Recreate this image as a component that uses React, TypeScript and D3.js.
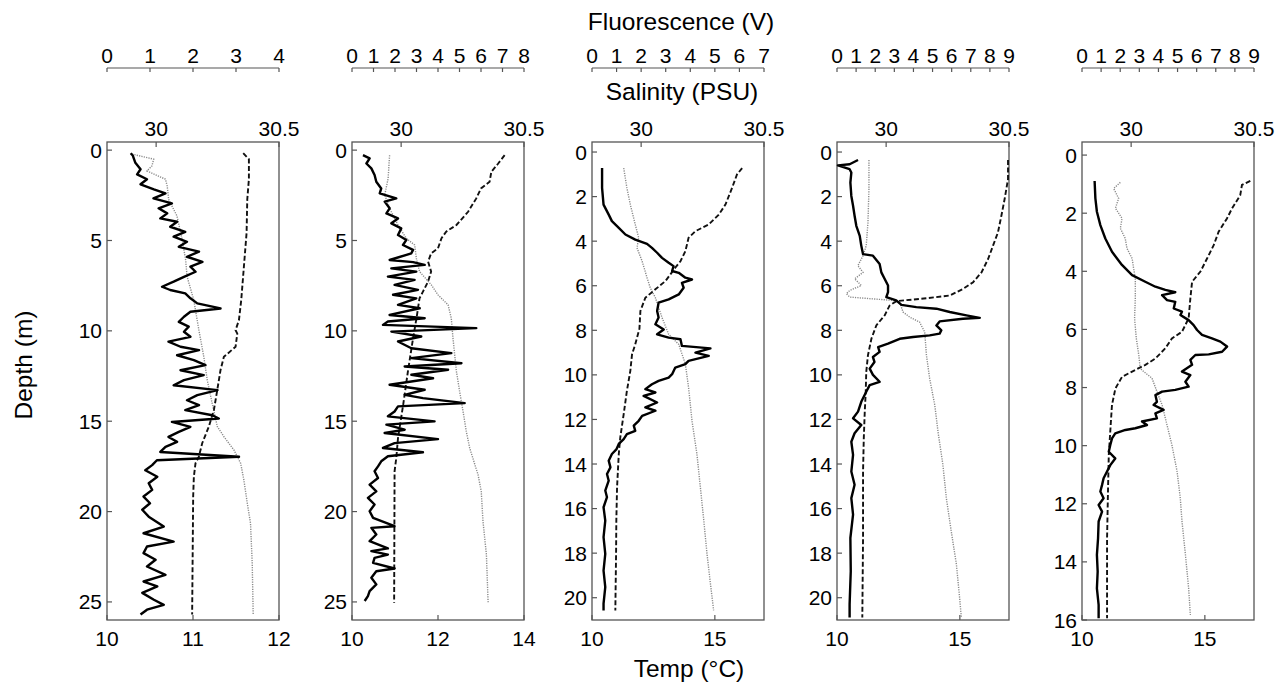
import React from "react";
import { scaleLinear, line } from "d3";

// ---- data: [depth (m), value] ----

// panel 1
const p1Fluor: number[][] = [
  [0.17, 0.55], [0.3, 0.6], [0.7, 0.66], [1.06, 0.78], [1.34, 0.7], [1.61, 0.93], [1.89, 0.78],
  [2.17, 1.09], [2.39, 1.36], [2.67, 1.08], [2.95, 1.51], [3.22, 1.2], [3.5, 1.4], [3.78, 1.24],
  [3.96, 1.63], [4.24, 1.47], [4.52, 1.82], [4.79, 1.55], [5.07, 1.86], [5.35, 1.67], [5.62, 2.14],
  [5.9, 1.86], [6.18, 2.22], [6.45, 1.94], [6.73, 2.06], [7.01, 1.79], [7.28, 1.55], [7.56, 1.28],
  [7.74, 1.47], [7.93, 1.82], [8.2, 1.94], [8.48, 2.1], [8.76, 2.64], [8.94, 1.94], [9.22, 1.79],
  [9.5, 1.67], [9.77, 1.9], [10.05, 1.79], [10.33, 1.94], [10.6, 1.43], [10.88, 1.71],
  [11.07, 2.14], [11.35, 1.63], [11.62, 2.02], [11.9, 2.29], [12.18, 1.71], [12.45, 2.25],
  [12.73, 1.79], [13.01, 1.55], [13.28, 2.57], [13.56, 2.1], [13.84, 1.86], [14.11, 2.14],
  [14.39, 1.82], [14.67, 2.45], [14.85, 2.6], [15.04, 1.51], [15.31, 1.94], [15.59, 1.67],
  [15.87, 1.43], [16.14, 1.63], [16.42, 1.36], [16.7, 1.24], [16.97, 3.07], [17.16, 1.16],
  [17.43, 1.05], [17.71, 0.89], [18.07, 1.17], [18.43, 0.97], [18.8, 1.05],
  [19.17, 0.85], [19.54, 1.0], [19.9, 0.82], [20.28, 0.97], [20.83, 1.32], [21.2, 0.85],
  [21.66, 1.55], [21.93, 0.93], [22.3, 0.85], [22.67, 1.13], [23.04, 0.93], [23.5, 1.36],
  [23.87, 0.85], [24.14, 1.17], [24.5, 0.82], [24.88, 1.09], [25.16, 1.32], [25.43, 0.93],
  [25.7, 0.78],
];
const p1Sal: number[][] = [
  [0.22, 29.902], [0.5, 29.99], [0.87, 29.983], [1.15, 29.963], [1.61, 30.038], [1.99, 30.045],
  [2.73, 30.051], [3.65, 30.085], [4.95, 30.106], [6.07, 30.12], [7.0, 30.126], [8.29, 30.153],
  [9.96, 30.174], [11.44, 30.194], [12.73, 30.208], [14.01, 30.228], [15.3, 30.249],
  [15.86, 30.276], [16.6, 30.317], [17.33, 30.344], [18.25, 30.357], [19.54, 30.371],
  [20.64, 30.384], [22.85, 30.391], [25.7, 30.395],
];
const p1Temp: number[][] = [
  [0.17, 11.584], [0.5, 11.65], [1.61, 11.65], [2.73, 11.631], [4.58, 11.623], [6.44, 11.592],
  [8.29, 11.561], [9.41, 11.534], [9.96, 11.495], [10.15, 11.515], [10.88, 11.495],
  [11.44, 11.359], [12.17, 11.32], [13.28, 11.282], [14.38, 11.243], [15.3, 11.184],
  [16.22, 11.107], [16.96, 11.068], [17.33, 11.029], [18.07, 11.01], [19.17, 11.002],
  [25.7, 10.99],
];

// panel 2
const p2Fluor: number[][] = [
  [0.28, 0.51], [0.46, 0.82], [0.74, 0.67], [1.01, 0.9], [1.38, 1.05], [1.75, 1.13], [2.12, 1.36],
  [2.39, 1.29], [2.67, 2.06], [2.85, 1.52], [3.22, 1.75], [3.5, 1.6], [3.78, 2.14], [4.05, 1.83],
  [4.33, 2.29], [4.7, 2.14], [4.97, 2.53], [5.25, 2.37], [5.52, 2.84], [5.71, 2.76], [6.08, 1.75],
  [6.2, 2.84], [6.35, 3.38], [6.54, 1.83], [6.72, 2.99], [7.0, 1.67], [7.18, 2.91], [7.46, 1.98],
  [7.73, 3.07], [8.0, 1.91], [8.2, 2.99], [8.56, 2.14], [8.75, 3.15], [9.12, 1.75], [9.3, 3.38],
  [9.48, 1.67], [9.67, 1.44], [9.85, 5.78], [10.04, 1.83], [10.31, 3.22], [10.59, 2.14],
  [10.96, 2.76], [11.23, 4.62], [11.51, 2.76], [11.79, 5.09], [11.97, 2.45], [12.15, 4.47],
  [12.43, 2.76], [12.62, 3.77], [12.98, 1.75], [13.26, 3.38], [13.54, 2.45], [13.72, 3.3],
  [14.0, 5.24], [14.18, 2.14], [14.46, 1.98], [14.73, 1.67], [15.01, 3.84], [15.19, 1.6],
  [15.47, 2.45], [15.65, 1.52], [15.99, 4.0], [16.21, 1.98], [16.48, 1.44], [16.72, 3.3],
  [16.94, 1.67], [17.22, 1.36], [17.5, 1.21], [17.77, 1.05], [18.14, 1.21], [18.51, 0.82],
  [18.88, 1.13], [19.24, 0.74], [19.61, 1.05], [19.98, 0.82], [20.35, 0.98], [20.81, 1.98],
  [20.9, 0.9], [21.27, 1.13], [21.64, 0.82], [22.04, 1.67], [22.19, 0.9], [22.38, 1.67],
  [22.56, 1.05], [22.84, 0.98], [23.15, 1.98], [23.3, 1.13], [23.66, 0.9], [24.03, 1.13],
  [24.4, 0.82], [24.68, 0.74], [24.95, 0.59],
];
const p2Sal: number[][] = [
  [0.28, 29.953], [1.57, 29.947], [2.49, 29.933], [3.41, 29.96], [4.14, 29.987], [4.88, 30.021],
  [5.25, 30.055], [5.99, 30.062], [6.72, 30.075], [7.46, 30.123], [8.01, 30.15], [8.56, 30.191],
  [9.3, 30.204], [10.41, 30.211], [11.33, 30.218], [12.25, 30.225], [13.35, 30.238],
  [14.46, 30.252], [15.56, 30.265], [16.48, 30.279], [17.4, 30.3], [17.96, 30.313],
  [18.88, 30.326], [20.53, 30.333], [22.38, 30.347], [25.05, 30.354],
];
const p2Temp: number[][] = [
  [0.28, 13.55], [0.74, 13.4], [1.2, 13.24], [1.75, 13.2], [2.12, 13.0], [2.67, 12.89],
  [3.41, 12.7], [4.14, 12.43], [4.51, 12.19], [4.88, 12.08], [5.43, 12.0], [5.71, 11.84],
  [6.17, 11.77], [6.72, 11.84], [7.27, 11.77], [7.83, 11.65], [8.2, 11.57], [9.3, 11.5],
  [10.41, 11.42], [12.25, 11.3], [14.09, 11.19], [15.93, 11.07], [17.03, 11.03],
  [17.77, 10.99], [25.05, 10.98],
];

// panel 3
const p3Fluor: number[][] = [
  [0.72, 0.41], [1.61, 0.41], [2.36, 0.47], [2.81, 0.68], [3.1, 0.81], [3.4, 1.09], [3.7, 1.36],
  [3.93, 1.76], [4.12, 2.24], [4.3, 2.44], [4.52, 2.65], [4.75, 2.85], [4.97, 3.12], [5.12, 3.32],
  [5.34, 3.26], [5.42, 3.53], [5.64, 3.8], [5.72, 4.07], [5.87, 3.66], [6.09, 3.73], [6.39, 3.53],
  [6.61, 3.12], [6.76, 2.71], [7.13, 2.65], [7.43, 2.71], [7.73, 2.58], [7.96, 2.92], [8.18, 2.65],
  [8.33, 3.12], [8.4, 3.6], [8.7, 3.66], [8.81, 4.82], [9.0, 4.21], [9.15, 4.75], [9.37, 3.93],
  [9.52, 3.8], [9.67, 3.39], [9.97, 3.26], [10.12, 3.12], [10.27, 2.71], [10.42, 2.44],
  [10.64, 2.17], [10.79, 2.58], [10.94, 2.1], [11.24, 2.65], [11.46, 2.17], [11.61, 2.58],
  [11.84, 2.04], [12.06, 1.9], [12.28, 1.7], [12.51, 1.76], [12.66, 1.42], [12.88, 1.29],
  [13.1, 1.09], [13.33, 1.0], [13.55, 0.81], [13.85, 0.68], [14.15, 0.75], [14.45, 0.61],
  [14.75, 0.68], [15.19, 0.54], [15.49, 0.61], [15.94, 0.47], [16.54, 0.54], [17.28, 0.47],
  [18.03, 0.54], [18.78, 0.47], [19.52, 0.54], [20.27, 0.47], [20.57, 0.47],
];
const p3Sal: number[][] = [
  [0.72, 29.929], [1.61, 29.942], [2.36, 29.956], [3.25, 29.976], [3.85, 29.99], [4.3, 29.983],
  [4.9, 30.004], [5.64, 30.024], [6.09, 30.037], [6.54, 30.058], [7.43, 30.085], [8.18, 30.112],
  [8.63, 30.153], [9.52, 30.18], [10.57, 30.193], [12.06, 30.207], [13.55, 30.227],
  [15.04, 30.241], [16.54, 30.255], [18.03, 30.268], [19.37, 30.282], [20.57, 30.295],
];
const p3Temp: number[][] = [
  [0.72, 16.11], [1.01, 15.9], [1.61, 15.7], [2.36, 15.43], [2.81, 15.16], [3.25, 14.75],
  [3.55, 14.21], [3.85, 13.93], [4.45, 13.8], [4.9, 13.6], [5.19, 13.39], [5.49, 13.19],
  [5.79, 12.99], [6.16, 12.58], [6.54, 12.17], [7.13, 11.97], [7.93, 11.93], [8.63, 11.76],
  [9.07, 11.63], [9.82, 11.56], [10.72, 11.42], [11.76, 11.29], [12.81, 11.15], [13.55, 11.09],
  [15.04, 11.02], [16.54, 10.99], [18.03, 10.98], [20.57, 10.95],
];

// panel 4
const p4Fluor: number[][] = [
  [0.36, 1.1], [0.55, 0.66], [0.6, 0.05], [0.77, 0.66], [0.92, 0.75], [1.37, 0.7], [1.97, 0.75],
  [2.41, 0.84], [2.86, 0.92], [3.31, 1.01], [3.76, 1.19], [4.2, 1.27], [4.58, 1.36], [4.65, 1.88],
  [5.02, 2.23], [5.4, 2.32], [5.69, 2.49], [5.99, 2.67], [6.29, 2.67], [6.51, 2.58], [6.66, 3.1],
  [6.86, 3.37], [6.96, 4.15], [7.03, 5.2], [7.18, 5.9], [7.33, 6.77], [7.44, 7.47], [7.48, 6.59],
  [7.6, 5.37], [7.78, 5.2], [8.0, 5.46], [8.15, 5.37], [8.23, 4.85], [8.3, 3.98], [8.38, 3.28],
  [8.6, 2.67], [8.75, 2.15], [8.97, 2.23], [9.2, 1.88], [9.42, 1.96], [9.72, 1.71], [10.0, 1.88],
  [10.31, 2.23], [10.46, 1.71], [10.76, 1.53], [11.21, 1.27], [11.65, 1.1], [11.95, 0.84],
  [12.25, 1.27], [12.62, 0.92], [13.0, 0.75], [13.59, 0.84], [14.34, 0.75], [14.93, 0.92],
  [15.53, 0.75], [16.27, 0.84], [17.32, 0.7], [18.81, 0.72], [20.3, 0.66], [20.89, 0.66],
];
const p4Sal: number[][] = [
  [0.36, 29.93], [1.67, 29.93], [3.16, 29.926], [4.2, 29.919], [4.65, 29.906], [5.1, 29.885],
  [5.4, 29.906], [5.69, 29.872], [5.99, 29.899], [6.21, 29.852], [6.36, 29.838], [6.51, 29.852],
  [6.59, 29.947], [6.66, 30.028], [6.74, 30.055], [7.18, 30.069], [7.41, 30.096], [7.63, 30.136],
  [8.08, 30.157], [9.12, 30.164], [10.16, 30.177], [11.36, 30.198], [12.55, 30.211],
  [14.04, 30.231], [15.53, 30.245], [17.02, 30.265], [18.51, 30.286], [20.0, 30.299],
  [20.89, 30.306],
];
const p4Temp: number[][] = [
  [0.36, 16.96], [1.22, 16.96], [2.12, 16.82], [2.86, 16.69], [3.61, 16.55], [4.2, 16.35],
  [4.8, 16.15], [5.4, 15.88], [5.84, 15.54], [6.14, 15.13], [6.44, 14.59], [6.56, 13.64],
  [6.62, 13.09], [6.69, 12.42], [6.89, 12.14], [7.33, 11.94], [7.78, 11.6], [8.38, 11.4],
  [9.12, 11.26], [9.87, 11.19], [10.76, 11.17], [11.65, 11.13], [12.85, 11.09], [14.34, 11.06],
  [17.32, 11.06], [20.89, 11.03],
];

// panel 5
const p5Fluor: number[][] = [
  [0.89, 0.66], [1.49, 0.7], [1.95, 0.78], [2.41, 0.96], [2.87, 1.22], [3.33, 1.57], [3.78, 2.09],
  [4.13, 2.62], [4.36, 3.31], [4.53, 3.84], [4.64, 4.36], [4.72, 4.88], [4.82, 4.19], [4.99, 4.45],
  [5.05, 4.88], [5.28, 4.8], [5.39, 5.23], [5.5, 5.15], [5.68, 5.58], [5.85, 5.84], [6.02, 6.02],
  [6.19, 6.28], [6.31, 6.8], [6.42, 7.24], [6.59, 7.59], [6.77, 7.33], [6.86, 6.63], [6.88, 5.93],
  [7.05, 5.67], [7.22, 5.76], [7.45, 5.23], [7.57, 5.67], [7.8, 5.41], [7.97, 5.58], [8.08, 4.88],
  [8.14, 4.19], [8.26, 3.84], [8.49, 3.92], [8.6, 3.75], [8.77, 4.27], [8.89, 3.84], [9.06, 3.92],
  [9.17, 3.14], [9.29, 3.4], [9.4, 2.79], [9.46, 2.27], [9.58, 1.74], [9.75, 1.57], [9.98, 1.48],
  [10.21, 1.4], [10.44, 1.74], [10.67, 1.48], [10.89, 1.31], [11.12, 1.13], [11.35, 1.05],
  [11.58, 0.96], [11.81, 1.13], [12.04, 0.87], [12.27, 1.05], [12.61, 0.87], [13.19, 0.84],
  [13.76, 0.78], [14.33, 0.82], [14.91, 0.78], [15.48, 0.87], [15.94, 0.87],
];
const p5Sal: number[][] = [
  [0.94, 29.956], [1.15, 29.929], [1.49, 29.949], [1.83, 29.936], [2.18, 29.963], [2.52, 29.956],
  [2.87, 29.976], [3.21, 29.983], [3.56, 30.004], [3.9, 30.01], [4.24, 30.017], [4.93, 30.017],
  [5.62, 30.014], [6.31, 30.021], [6.88, 30.031], [7.34, 30.037], [7.45, 30.051], [7.68, 30.085],
  [8.14, 30.105], [8.6, 30.126], [9.29, 30.146], [9.98, 30.166], [10.89, 30.187], [11.81, 30.2],
  [12.61, 30.207], [13.76, 30.221], [14.91, 30.234], [15.83, 30.241],
];
const p5Temp: number[][] = [
  [0.89, 16.85], [1.03, 16.51], [1.38, 16.44], [1.83, 16.11], [2.18, 15.9], [2.64, 15.56],
  [3.1, 15.36], [3.56, 15.09], [4.01, 14.82], [4.36, 14.48], [4.93, 14.41], [5.62, 14.34],
  [6.08, 14.07], [6.31, 13.66], [6.65, 13.39], [7.0, 12.99], [7.22, 12.58], [7.45, 12.04],
  [7.63, 11.63], [8.03, 11.36], [8.6, 11.22], [9.52, 11.15], [10.32, 11.09], [11.47, 11.06],
  [13.19, 11.02], [15.94, 11.02],
];

// axes per panel
const depthMax = [26, 26, 21, 21, 16];
const depthTicks = [
  [0, 5, 10, 15, 20, 25],
  [0, 5, 10, 15, 20, 25],
  [0, 2, 4, 6, 8, 10, 12, 14, 16, 18, 20],
  [0, 2, 4, 6, 8, 10, 12, 14, 16, 18, 20],
  [0, 2, 4, 6, 8, 10, 12, 14, 16],
];
const tempMax = [12, 14, 17, 17, 17];
const tempTicks = [[10, 11, 12], [10, 12, 14], [10, 15], [10, 15], [10, 15]];
const fluorMax = [4, 8, 7, 9, 9];
const salDomain = [29.8, 30.5];
const salTicks = [30, 30.5];

const fluorSeries = [p1Fluor, p2Fluor, p3Fluor, p4Fluor, p5Fluor];
const salSeries = [p1Sal, p2Sal, p3Sal, p4Sal, p5Sal];
const tempSeries = [p1Temp, p2Temp, p3Temp, p4Temp, p5Temp];

// layout
const W = 1284;
const H = 683;
const panelLeft = [107, 352, 592, 837, 1082];
const boxW = 172;
const boxTop = 142;
const boxBottom = 620;
const fluorAxisY = 68;
const FONT = "'Liberation Sans', Arial, Helvetica, sans-serif";
const tickFont = 21;
const titleFont = 24.5;
const frame = "#555";

const Panel = ({ i }: { i: number }) => {
  const x0 = panelLeft[i];
  const x1 = x0 + boxW;
  const y = scaleLinear().domain([-0.45, depthMax[i]]).range([boxTop, boxBottom]);
  const xT = scaleLinear().domain([10, tempMax[i]]).range([x0, x1]);
  const xF = scaleLinear().domain([0, fluorMax[i]]).range([x0, x1]);
  const xS = scaleLinear().domain(salDomain).range([x0, x1]);

  const mk = (sx: (v: number) => number) =>
    line<number[]>()
      .x((d) => sx(d[1]))
      .y((d) => y(d[0]));

  const fluorTicks = xF.ticks(fluorMax[i]).filter((v) => Number.isInteger(v));

  return (
    <g>
      {/* fluorescence axis (top, detached) */}
      <line x1={x0} x2={x1} y1={fluorAxisY} y2={fluorAxisY} stroke={frame} strokeWidth={1.2} />
      {fluorTicks.map((v) => (
        <g key={"f" + v}>
          <line x1={xF(v)} x2={xF(v)} y1={fluorAxisY} y2={fluorAxisY + 4} stroke={frame} strokeWidth={1.2} />
          <text x={xF(v)} y={fluorAxisY - 5} textAnchor="middle" fontSize={tickFont} fontFamily={FONT}>
            {v}
          </text>
        </g>
      ))}

      {/* box */}
      <rect x={x0} y={boxTop} width={boxW} height={boxBottom - boxTop} fill="none" stroke={frame} strokeWidth={1.3} />

      {/* salinity ticks on top edge */}
      {salTicks.map((v) => (
        <g key={"s" + v}>
          <line x1={xS(v)} x2={xS(v)} y1={boxTop} y2={boxTop + 5} stroke={frame} strokeWidth={1.2} />
          <text x={xS(v)} y={boxTop - 6} textAnchor="middle" fontSize={tickFont} fontFamily={FONT}>
            {v}
          </text>
        </g>
      ))}

      {/* temperature ticks on bottom edge */}
      {tempTicks[i].map((v) => (
        <g key={"t" + v}>
          <line x1={xT(v)} x2={xT(v)} y1={boxBottom} y2={boxBottom - 5} stroke={frame} strokeWidth={1.2} />
          <text x={xT(v)} y={boxBottom + 26} textAnchor="middle" fontSize={tickFont} fontFamily={FONT}>
            {v}
          </text>
        </g>
      ))}

      {/* depth ticks */}
      {depthTicks[i].map((v) => (
        <g key={"d" + v}>
          <line x1={x0} x2={x0 + 5} y1={y(v)} y2={y(v)} stroke={frame} strokeWidth={1.2} />
          <text x={x0 - 5} y={y(v)} dy="0.36em" textAnchor="end" fontSize={tickFont} fontFamily={FONT}>
            {v}
          </text>
        </g>
      ))}

      {/* profiles */}
      <path d={mk(xS)(salSeries[i]) || ""} fill="none" stroke="#8a8a8a" strokeWidth={1.4} strokeDasharray="1.2,1.2" />
      <path d={mk(xT)(tempSeries[i]) || ""} fill="none" stroke="#111" strokeWidth={1.9} strokeDasharray="5,2.5" />
      <path d={mk(xF)(fluorSeries[i]) || ""} fill="none" stroke="#000" strokeWidth={2.4} strokeLinejoin="round" />
    </g>
  );
};

export default function App() {
  return (
    <svg
      width={W}
      height={H}
      style={{ position: "absolute", left: 0, top: 0, background: "#fff" }}
    >
      {[0, 1, 2, 3, 4].map((i) => (
        <Panel key={i} i={i} />
      ))}
      <text x={681} y={30} textAnchor="middle" fontSize={titleFont} fontFamily={FONT}>
        Fluorescence (V)
      </text>
      <text x={682} y={100} textAnchor="middle" fontSize={titleFont} fontFamily={FONT}>
        Salinity (PSU)
      </text>
      <text x={689} y={677} textAnchor="middle" fontSize={titleFont} fontFamily={FONT}>
        Temp (°C)
      </text>
      <text
        transform="translate(32,365) rotate(-90)"
        textAnchor="middle"
        fontSize={titleFont}
        fontFamily={FONT}
      >
        Depth (m)
      </text>
    </svg>
  );
}
